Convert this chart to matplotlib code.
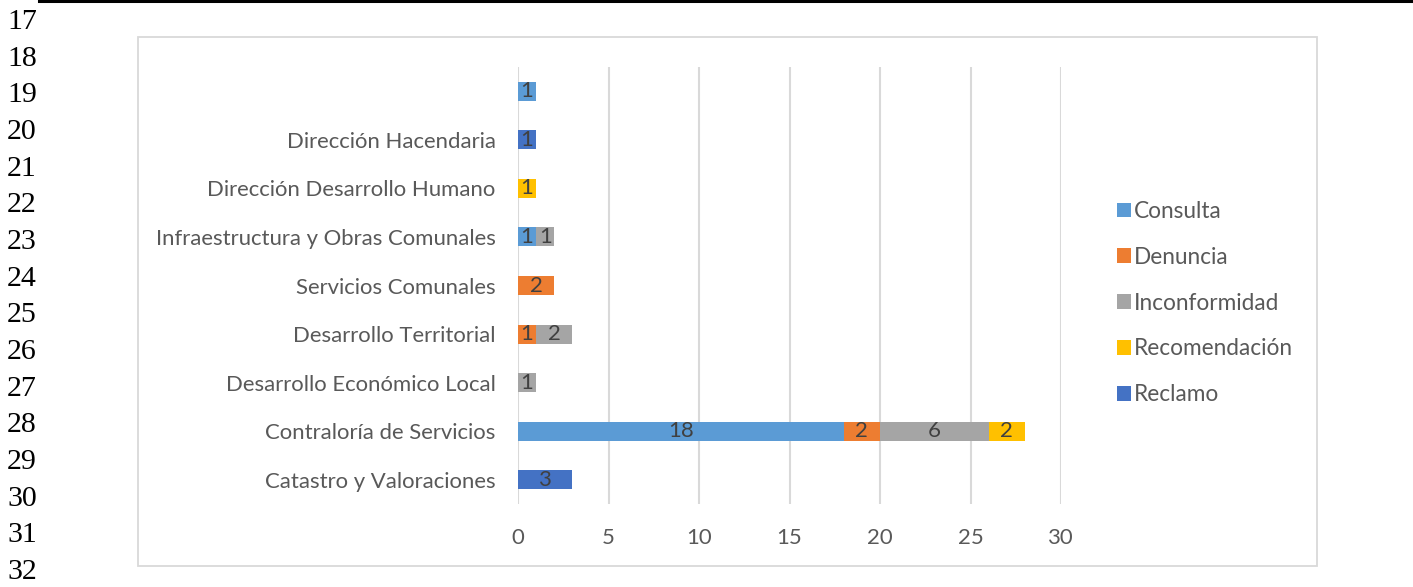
import matplotlib
matplotlib.use("Agg")
import matplotlib.pyplot as plt
from matplotlib.patches import Rectangle, Patch
from matplotlib.lines import Line2D
import numpy as np

categories = ["Catastro y Valoraciones", "Contraloría de Servicios", "Desarrollo Económico Local",
              "Desarrollo Territorial", "Servicios Comunales", "Infraestructura y Obras Comunales",
              "Dirección Desarrollo Humano", "Dirección Hacendaria", ""]
series_names = ["Consulta", "Denuncia", "Inconformidad", "Recomendación", "Reclamo"]
consulta = [0, 18, 0, 0, 0, 1, 0, 0, 1]
denuncia = [0, 2, 0, 1, 2, 0, 0, 0, 0]
inconformidad = [0, 6, 1, 2, 0, 1, 0, 0, 0]
recomendacion = [0, 2, 0, 0, 0, 0, 1, 0, 0]
reclamo = [3, 0, 0, 0, 0, 0, 0, 1, 0]
colors = ["#5B9BD5", "#ED7D31", "#A5A5A5", "#FFC000", "#4472C4"]
xticks = [0, 5, 10, 15, 20, 25, 30]
line_numbers = list(range(17, 33))

W, H = 1413, 587
fig = plt.figure(figsize=(W / 100, H / 100), dpi=100)

font = "Lato"
txtc = "#595959"
fs = 15.9

# document decorations
fig.add_artist(Line2D([39 / W, 1.0], [1 - 1 / H, 1 - 1 / H], color="black", lw=2.2,
                      transform=fig.transFigure))
for i, n in enumerate(line_numbers):
    y = 22 + i * (572 - 22) / 15
    fig.text(7 / W, 1 - y / H, str(n), fontsize=21.5, family="Liberation Serif",
             va="center", ha="left", color="black")

# chart border
fig.add_artist(Rectangle((138 / W, 1 - 566 / H), (1317 - 138) / W, (566 - 37) / H,
                         fill=False, edgecolor="#D9D9D9", lw=1.3, transform=fig.transFigure))

ax = fig.add_axes([518 / W, 1 - 504 / H, (1061 - 518) / W, (504 - 67) / H])
data = [consulta, denuncia, inconformidad, recomendacion, reclamo]
y = np.arange(len(categories))
left = np.zeros(len(categories))
for name, vals, c in zip(series_names, data, colors):
    vals = np.array(vals, dtype=float)
    bars = ax.barh(y, vals, left=left, height=0.39, color=c, label=name, zorder=3)
    for b, v in zip(bars, vals):
        if v > 0:
            ax.text(b.get_x() + b.get_width() / 2, b.get_y() + b.get_height() / 2 + 0.0,
                    f"{int(v)}", ha="center", va="center", fontsize=fs, color="#404040",
                    family=font, zorder=4)
    left += vals

ax.set_xlim(0, 30)
ax.set_ylim(-0.5, len(categories) - 0.5)
ax.set_xticks(xticks)
ax.set_yticks(y)
ax.set_yticklabels(categories)
for s in ax.spines.values():
    s.set_visible(False)
ax.grid(axis="x", color="#D9D9D9", lw=1.5, zorder=0)
ax.tick_params(axis="both", length=0, labelcolor=txtc, labelsize=fs)
ax.tick_params(axis="y", pad=16)
ax.tick_params(axis="x", pad=17)
for lab in ax.get_xticklabels() + ax.get_yticklabels():
    lab.set_family(font)

handles = [Patch(facecolor=c, edgecolor="none", label=n) for n, c in zip(series_names, colors)]
fig.legend(handles=handles, loc="center left", bbox_to_anchor=(1097 / W, 1 - 303 / H),
           frameon=False, prop={"family": font, "size": 16.3}, labelcolor=txtc,
           handlelength=0.6, handleheight=0.6, handletextpad=0.15, labelspacing=1.1)

fig.savefig("out.png", dpi=100)
